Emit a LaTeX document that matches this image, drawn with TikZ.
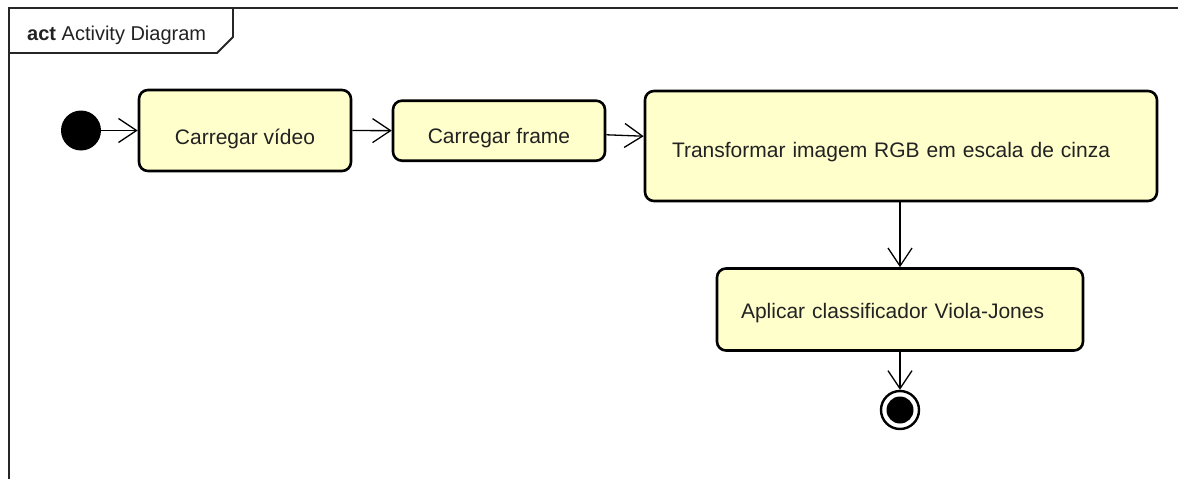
\documentclass[tikz,border=0pt]{standalone}
\usepackage{fontspec}
\newfontfamily\umlfont{Liberation Sans}
\usetikzlibrary{arrows.meta}
\definecolor{actfill}{RGB}{255,255,204}
\definecolor{umltext}{RGB}{34,34,34}
% label set on a baseline placed #1 below the action's centre
\newcommand{\actlabel}[2]{\raisebox{-#1}[0pt][0pt]{#2}}
\tikzset{
  x=1pt, y=-1pt,
  action/.style={draw=black, line width=2.6pt, fill=actfill, rounded corners=9pt,
    inner sep=0pt, font=\umlfont\fontsize{21}{25}\selectfont, text=umltext},
  flow/.style={line width=1.3pt, -{Straight Barb[length=18pt,width=24pt,line width=1.3pt]}},
  framebox/.style={draw=black!85, line width=1.8pt}
}
\begin{document}
\begin{tikzpicture}
\useasboundingbox (0,0) rectangle (1178,479);
% diagram frame and its name tab
\draw[framebox] (1178,8) -- (9,8) -- (9,479);
\draw[framebox, line join=miter] (9,53) -- (217,53) -- (233,37) -- (233,8);
\node[anchor=base west, inner sep=0pt, font=\umlfont\fontsize{20}{24}\selectfont, text=umltext]
  (title) at (27,40) {\textbf{act} Activity Diagram};

% initial and final nodes
\node[circle, fill=black, minimum size=40pt, inner sep=0pt] (start) at (81,130.5) {};
\node[circle, draw=black, line width=2.4pt, fill=white, minimum size=38pt, inner sep=0pt] (stop) at (900,410) {};
\node[circle, fill=black, minimum size=27pt, inner sep=0pt] (stopdot) at (stop.center) {};

% actions
\node[action, minimum width=212pt, minimum height=81pt] (video) at (245,130.5) {\actlabel{14pt}{Carregar vídeo}};
\node[action, minimum width=212pt, minimum height=60pt] (frame) at (499,130.7) {\actlabel{13pt}{Carregar frame}};
\node[action, minimum width=512pt, minimum height=110pt, text width=458pt, align=left] (gray) at (901,146)
  {\actlabel{11pt}{Transformar imagem RGB em escala de cinza}};
\node[action, minimum width=366pt, minimum height=82pt, text width=318pt, align=left] (viola) at (900,309.5)
  {\actlabel{9pt}{Aplicar classificador Viola-Jones}};

% control flows
\draw[flow] (start) -- (video);
\draw[flow] (video) -- (frame);
\draw[flow] (frame) -- (gray);
\draw[flow] (gray.south -| viola.north) -- (viola.north);
\draw[flow] (viola) -- (stop);
\end{tikzpicture}
\end{document}
